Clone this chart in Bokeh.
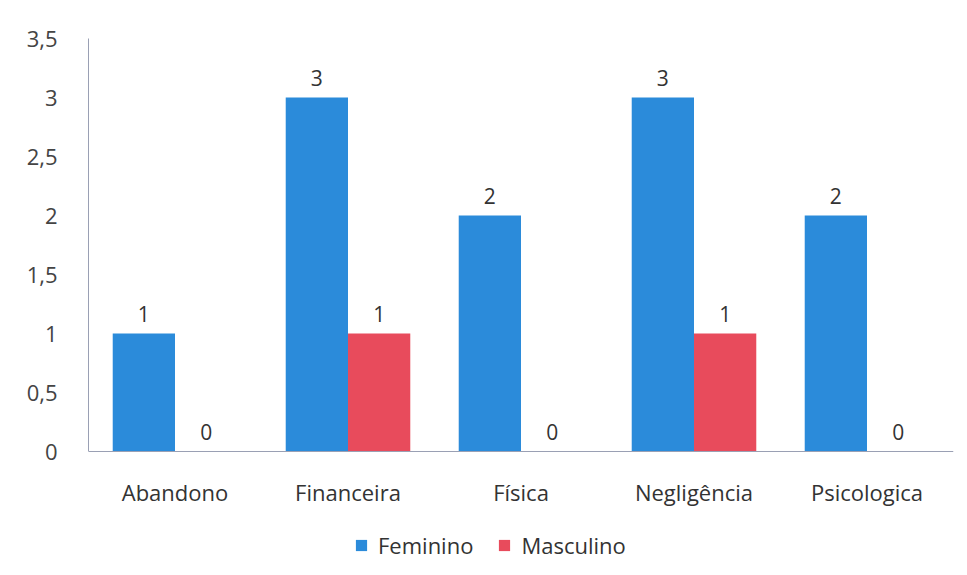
from bokeh.plotting import figure
from bokeh.models import ColumnDataSource, FactorRange, LabelSet, FixedTicker, Legend, LegendItem
from bokeh.transform import dodge
from bokeh.core.properties import value
from bokeh.embed import file_html
from bokeh.resources import INLINE

categories = ["Abandono", "Financeira", "Física", "Negligência", "Psicologica"]
feminino = [1, 3, 2, 3, 2]
masculino = [0, 1, 0, 1, 0]
series_names = ["Feminino", "Masculino"]
y_ticks = [0, 0.5, 1, 1.5, 2, 2.5, 3, 3.5]
y_tick_labels = ["0", "0,5", "1", "1,5", "2", "2,5", "3", "3,5"]

BLUE = "#2B8BDA"
RED = "#E84B5C"
FONT = "Open Sans"

src = ColumnDataSource(dict(
    cat=categories, fem=feminino, mas=masculino,
    fem_l=[str(v) for v in feminino], mas_l=[str(v) for v in masculino],
))

# the frame extends below zero so that the category labels and legend sit inside it
p = figure(frame_width=865, frame_height=530,
           x_range=FactorRange(factors=categories, range_padding=0),
           y_range=(-0.99, 3.5), output_backend="svg", toolbar_location=None,
           min_border_left=88, min_border_right=5, min_border_top=38, min_border_bottom=0)

r1 = p.vbar(x=dodge("cat", -0.18, range=p.x_range), top="fem", width=0.36, source=src,
            fill_color=BLUE, line_color=None)
r2 = p.vbar(x=dodge("cat", 0.18, range=p.x_range), top="mas", width=0.36, source=src,
            fill_color=RED, line_color=None)

for col, lab, off in [("fem", "fem_l", -0.18), ("mas", "mas_l", 0.18)]:
    ls = LabelSet(x=dodge("cat", off, range=p.x_range), y=col, text=lab, source=src,
                  text_align="center", text_baseline="bottom", y_offset=12,
                  text_font=value(FONT), text_font_size="21px", text_color="#333333")
    p.add_layout(ls)

p.xgrid.grid_line_color = None
p.ygrid.grid_line_color = None
p.outline_line_color = None

p.yaxis.ticker = FixedTicker(ticks=y_ticks)
p.yaxis.major_label_overrides = {t: l for t, l in zip(y_ticks, y_tick_labels)}
p.yaxis.bounds = (y_ticks[0], y_ticks[-1])
p.yaxis.major_tick_line_color = None
p.yaxis.minor_tick_line_color = None
p.yaxis.axis_line_color = "#9aa0b4"
p.yaxis.major_label_text_font = FONT
p.yaxis.major_label_text_font_size = "22px"
p.yaxis.major_label_text_color = "#444444"
p.yaxis.major_label_standoff = 25

p.xaxis.fixed_location = 0
p.xaxis.major_tick_line_color = None
p.xaxis.axis_line_color = "#9aa0b4"
p.xaxis.major_label_text_font = FONT
p.xaxis.major_label_text_font_size = "22px"
p.xaxis.major_label_text_color = "#333333"
p.xaxis.major_label_standoff = 19

legend = Legend(items=[LegendItem(label=series_names[0], renderers=[r1]),
                       LegendItem(label=series_names[1], renderers=[r2])],
                orientation="horizontal", location=(266, 8),
                label_text_font=FONT, label_text_font_size="22px", label_text_color="#333333",
                glyph_width=14, glyph_height=14, spacing=24, label_standoff=10,
                border_line_color=None, background_fill_alpha=0, margin=0, padding=4)
p.add_layout(legend, "center")

open("out.html", "w").write(file_html(p, INLINE))
